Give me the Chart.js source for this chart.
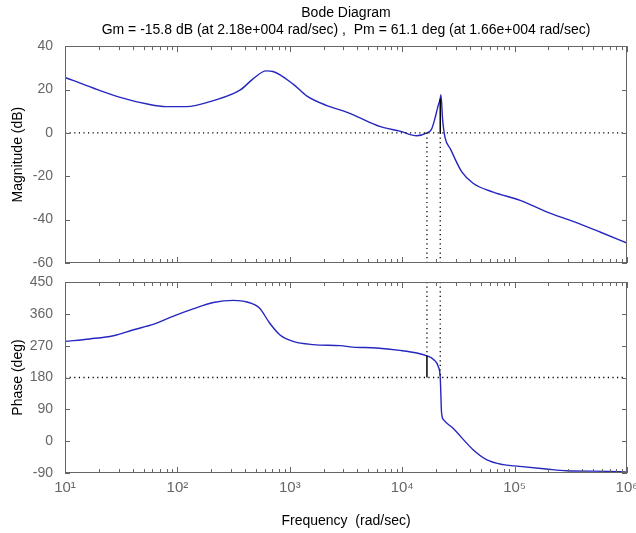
<!DOCTYPE html>
<html><head><meta charset="utf-8">
<script src="https://cdn.jsdelivr.net/npm/chart.js@4"></script>
<style>
html,body{margin:0;padding:0;background:#fff;}
#wrap{position:relative;width:636px;height:533px;overflow:hidden;background:#fff}
.box{position:absolute;left:0;width:636px}
#b1{top:0;height:275px}
#b2{top:275px;height:258px}
</style></head><body>
<div id="wrap"><div class="box" id="b1"><canvas id="c1"></canvas></div><div class="box" id="b2"><canvas id="c2"></canvas></div></div>
<script>
// ---------- data ----------
const titleLines = ['Bode Diagram', 'Gm = -15.8 dB (at 2.18e+004 rad/sec) ,  Pm = 61.1 deg (at 1.66e+004 rad/sec)'];
const magFreq = [10, 17.8, 31, 54, 79, 120, 209, 363, 468, 617, 708, 1070, 1410, 2140, 3240, 4170, 6310, 9550, 13500, 16600, 18200, 19500, 20700, 21800, 22100, 22900, 24000, 26900, 33900, 42700, 64600, 112000, 195000, 331000, 575000, 1000000];
const magDb   = [25.6, 20.7, 16.4, 13.3, 12.1, 12.1, 14.9, 19.8, 24.8, 28.6, 28.3, 22.5, 17.1, 12.6, 9.5, 7.0, 3.0, 0.8, -1.3, 0.0, 1.6, 6.4, 11.8, 15.8, 17.6, 6.0, -2.0, -7.5, -18.0, -23.2, -27.3, -31.1, -36.5, -40.8, -45.7, -50.8];
const phaseFreq = [10, 16.6, 26.9, 40.7, 61.7, 91.2, 138, 209, 316, 417, 537, 661, 813, 1070, 1620, 2820, 3630, 5890, 9550, 13500, 16600, 19100, 20900, 21800, 22400, 23400, 28200, 42700, 56200, 79400, 100000, 191000, 288000, 871000, 1000000];
const phaseDeg  = [282, 289, 298, 315, 331, 353, 374, 392, 398, 393.5, 376.5, 334, 301, 282, 273, 270, 266, 263.4, 256.6, 249.3, 241.1, 230.4, 211.4, 180, 80, 60, 37, -24, -52, -66.5, -70, -78.6, -83.5, -86, -88];
const decades = [10, 100, 1000, 10000, 100000, 1000000];
const decadeLabels = ['10\u00B9', '10\u00B2', '10\u00B3', '10\u2074', '10\u2075', '10\u2076'];
const magRange = [-60, 40];
const phaseRange = [-90, 450];
const magStep = 20;
const phaseStep = 90;
const gmFreq = 21800;      // phase crossover (rad/sec)
const gmLevel = 15.8;      // magnitude at crossover (Gm = -15.8 dB)
const pmFreq = 16600;      // gain crossover (rad/sec)
const pmLevel = 241.1;     // phase at crossover (Pm = 61.1 deg)
const magRef = 0;
const phaseRef = 180;

// ---------- styles ----------
const FONT = 'Liberation Sans, Arial, Helvetica, sans-serif';
const CURVE = '#2626c0';
const AXIS = '#666666';
const pts = (xs, ys) => xs.map((x, i) => ({x, y: ys[i]}));
const curve = (data) => ({data, borderColor: CURVE, borderWidth: 1.4, pointRadius: 0, cubicInterpolationMode: 'monotone', fill: false});
const dotted = (data) => ({data, borderColor: '#000', borderWidth: 1.3, borderDash: [1.2, 3.4], pointRadius: 0, fill: false, tension: 0});
const solid = (data) => ({data, borderColor: '#000', borderWidth: 1.5, pointRadius: 0, fill: false, tension: 0});

const frameTicks = {
  id: 'frameTicks',
  afterDatasetsDraw(chart) {
    const {ctx, chartArea: a, scales: {x, y}} = chart;
    ctx.save();
    ctx.strokeStyle = AXIS; ctx.lineWidth = 1;
    ctx.beginPath();
    decades.forEach(d => {
      for (let m = 1; m <= 9; m++) {
        const v = d * m;
        if (v > x.max) break;
        const px = Math.round(x.getPixelForValue(v)) + 0.5;
        const len = m === 1 ? 6 : 4;
        ctx.moveTo(px, a.bottom); ctx.lineTo(px, a.bottom - len);
        ctx.moveTo(px, a.top); ctx.lineTo(px, a.top + len);
      }
    });
    y.ticks.forEach(t => {
      const py = Math.round(y.getPixelForValue(t.value)) + 0.5;
      ctx.moveTo(a.left, py); ctx.lineTo(a.left + 5, py);
      ctx.moveTo(a.right, py); ctx.lineTo(a.right - 5, py);
    });
    ctx.stroke();
    ctx.strokeRect(Math.round(a.left) + 0.5, Math.round(a.top) + 0.5, Math.round(a.right - a.left) - 1, Math.round(a.bottom - a.top) - 1);
    ctx.restore();
  }
};

const yAxis = (range, step, label) => ({
  min: range[0], max: range[1],
  ticks: {stepSize: step, color: AXIS, font: {family: FONT, size: 14}, padding: 12},
  grid: {display: false, drawTicks: false},
  border: {display: false},
  title: {display: true, text: label, color: '#000', font: {family: FONT, size: 14}, padding: {top: 10, bottom: 0}},
  afterFit(s) { s.width = 65; s.paddingTop = 0; s.paddingBottom = 0; }
});

const common = {
  responsive: true, maintainAspectRatio: false, animation: false,
  events: []
};

new Chart(document.getElementById('c1'), {
  type: 'line',
  data: {datasets: [
    dotted([{x: decades[0], y: magRef}, {x: decades[decades.length - 1], y: magRef}]),
    dotted([{x: pmFreq, y: magRef}, {x: pmFreq, y: magRange[0]}]),
    dotted([{x: gmFreq, y: magRef}, {x: gmFreq, y: magRange[0]}]),
    solid([{x: gmFreq, y: magRef}, {x: gmFreq, y: gmLevel}]),
    curve(pts(magFreq, magDb))
  ]},
  options: Object.assign({}, common, {
    layout: {padding: {top: 0, right: 9, left: 0, bottom: 12}},
    plugins: {
      legend: {display: false}, tooltip: {enabled: false},
      title: {display: true, text: titleLines, fullSize: false, color: '#000',
        font: {family: FONT, size: 14, weight: 'normal', lineHeight: 1.22},
        padding: {top: 5, bottom: 7}}
    },
    scales: {
      x: {type: 'logarithmic', min: decades[0], max: decades[decades.length - 1], display: false},
      y: yAxis(magRange, magStep, 'Magnitude (dB)')
    }
  }),
  plugins: [frameTicks]
});

new Chart(document.getElementById('c2'), {
  type: 'line',
  data: {datasets: [
    dotted([{x: decades[0], y: phaseRef}, {x: decades[decades.length - 1], y: phaseRef}]),
    dotted([{x: pmFreq, y: phaseRange[1]}, {x: pmFreq, y: pmLevel}]),
    dotted([{x: gmFreq, y: phaseRange[1]}, {x: gmFreq, y: phaseRef}]),
    solid([{x: pmFreq, y: phaseRef}, {x: pmFreq, y: pmLevel}]),
    curve(pts(phaseFreq, phaseDeg))
  ]},
  options: Object.assign({}, common, {
    layout: {padding: {top: 7, right: 9, left: 0, bottom: 0}},
    plugins: {legend: {display: false}, tooltip: {enabled: false}},
    scales: {
      x: {type: 'logarithmic', min: decades[0], max: decades[decades.length - 1],
        afterBuildTicks(s) { s.ticks = decades.map(v => ({value: v})); },
        ticks: {autoSkip: false, maxRotation: 0, color: AXIS, font: {family: FONT, size: 15}, padding: 6,
          callback: (v) => { const i = decades.indexOf(v); return i >= 0 ? decadeLabels[i] : ''; }},
        grid: {display: false, drawTicks: false},
        border: {display: false},
        title: {display: true, text: 'Frequency  (rad/sec)', color: '#000', font: {family: FONT, size: 14}, padding: {top: 0, bottom: 3}},
        afterFit(s) { s.height = 60; s.paddingLeft = 0; s.paddingRight = 0; }
      },
      y: yAxis(phaseRange, phaseStep, 'Phase (deg)')
    }
  }),
  plugins: [frameTicks]
});
</script>
</body></html>
